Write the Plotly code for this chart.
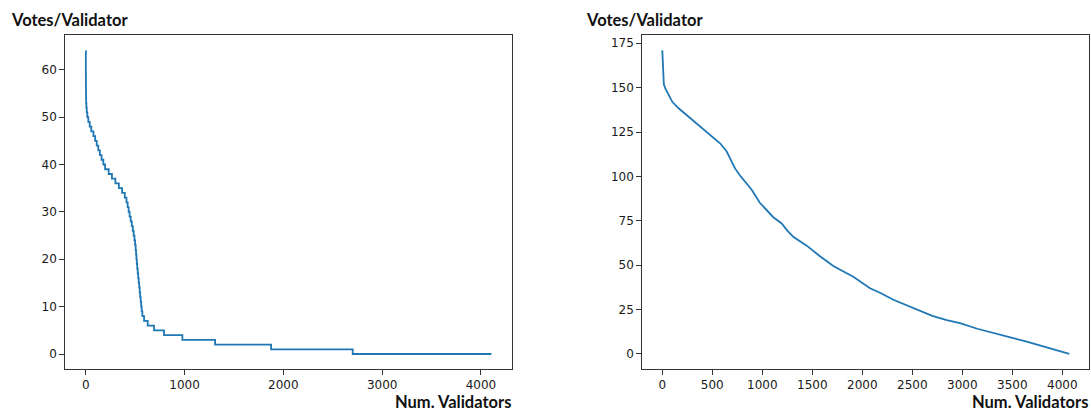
import plotly.graph_objects as go

# ---- Left chart: votes per validator (integer levels) and the index where each level ends
left_levels = list(range(64, -1, -1))
left_level_ends = [1, 1, 1, 1, 1, 2, 2, 2, 3, 3, 4,          # 64..54
                   6, 10, 16, 26, 40, 56, 78, 95, 111, 127,  # 53..44
                   143, 160, 178, 196, 232, 265, 300, 335, 368, 395,  # 43..34
                   412, 424, 434, 444, 455, 466, 476, 485, 493, 500,  # 33..24
                   505, 509, 513, 517, 521, 526, 531, 536, 541, 546,  # 23..14
                   551, 556, 561, 566, 573, 590, 627, 691, 792, 978,  # 13..4
                   1309, 1876, 2702, 4105]                            # 3..0

# ---- Right chart: points
right_x = [0, 3, 8, 15, 30, 60, 100, 160, 277, 410, 527, 580, 644, 680, 727, 777, 840, 894,
           977, 1040, 1110, 1194, 1250, 1310, 1444, 1577, 1710, 1760, 1910, 2077,
           2177, 2310, 2510, 2700, 2844, 2977, 3150, 3310, 3500, 3644, 3800, 3977, 4070]
right_y = [171, 165, 155, 152, 149.5, 146, 142, 138.5, 133, 127, 121.5, 118.5, 114, 110, 104.5,
           100.5, 96, 92.5, 85, 81, 77, 73.5, 69.5, 66, 61, 55, 49.5, 48, 43.5, 37,
           34.5, 30.5, 25.7, 21.5, 19, 17.3, 14.2, 11.7, 9, 7, 4.5, 1.5, 0]

left_xticks = [0, 1000, 2000, 3000, 4000]
left_yticks = [0, 10, 20, 30, 40, 50, 60]
right_xticks = [0, 500, 1000, 1500, 2000, 2500, 3000, 3500, 4000]
right_yticks = [0, 25, 50, 75, 100, 125, 150, 175]

y_label = "Votes/Validator"
x_label = "Num. Validators"

# build step path for left chart
starts = [0] + left_level_ends[:-1]
lx = starts + [left_level_ends[-1]]
ly = left_levels + [left_levels[-1]]

W, H = 1091, 411
COLOR = "#1f77b4"

fig = go.Figure()
fig.add_trace(go.Scatter(x=lx, y=ly, mode="lines", line=dict(color=COLOR, width=1.8, shape="hv"),
                         xaxis="x", yaxis="y", showlegend=False, hoverinfo="skip"))
fig.add_trace(go.Scatter(x=right_x, y=right_y, mode="lines", line=dict(color=COLOR, width=1.8),
                         xaxis="x2", yaxis="y2", showlegend=False, hoverinfo="skip"))

ydom = [1 - 368.7 / H, 1 - 34.7 / H]
axis_common = dict(showline=True, mirror=True, linecolor="#333333", linewidth=1.1,
                   ticks="outside", ticklen=5, tickwidth=1.1, tickcolor="#333333",
                   showgrid=False, zeroline=False,
                   tickfont=dict(family="DejaVu Sans", size=12, color="#1a1a1a"))

fig.update_layout(
    width=W, height=H,
    margin=dict(l=0, r=0, t=0, b=0),
    paper_bgcolor="white", plot_bgcolor="white",
    xaxis=dict(domain=[65.3 / W, 511.7 / W], range=[-207, 4311], tickvals=left_xticks,
               anchor="y", **axis_common),
    yaxis=dict(domain=ydom, range=[-3.1, 67.4], tickvals=left_yticks, anchor="x", **axis_common),
    xaxis2=dict(domain=[642.3 / W, 1088.5 / W], range=[-200, 4262], tickvals=right_xticks,
                anchor="y2", **axis_common),
    yaxis2=dict(domain=ydom, range=[-8.3, 179.8], tickvals=right_yticks, anchor="x2", **axis_common),
)

title_font = dict(family="Lato", size=16.5, color="#111111")
for xpix in (10.0, 585.0):
    fig.add_annotation(text="<b>" + y_label + "</b>", xref="paper", yref="paper",
                       x=xpix / W, y=1 - 20.5 / H, xanchor="left", yanchor="middle",
                       showarrow=False, font=title_font, borderpad=0)
for xr in ("x domain", "x2 domain"):
    fig.add_annotation(text="<b>" + x_label + "</b>", xref=xr, yref="paper",
                       x=1.0, y=1 - 402.0 / H, xanchor="right", yanchor="middle",
                       showarrow=False, font=title_font, borderpad=0)

fig.write_html("out.html")
